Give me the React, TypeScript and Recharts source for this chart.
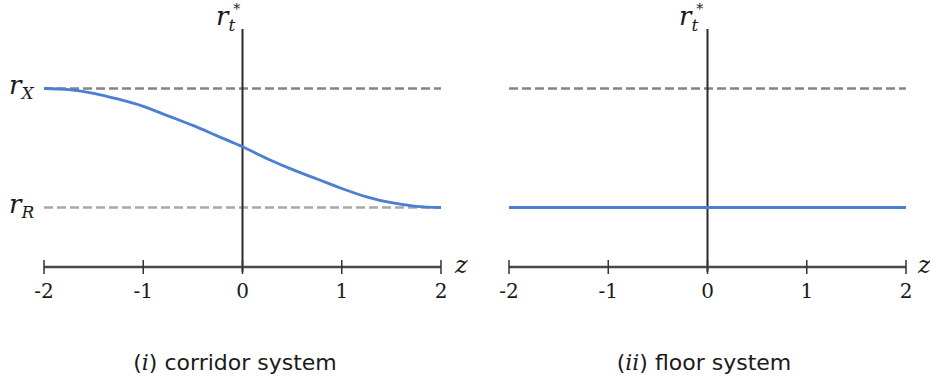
import { LineChart, Line, XAxis, YAxis, ReferenceLine } from 'recharts';

// z grid and policy-rate paths (r_R = 0, r_X = 1)
const corridorZ = [-2, -1.75, -1.5, -1.25, -1, -0.75, -0.5, -0.25, 0, 0.25, 0.5, 0.75, 1, 1.25, 1.5, 1.75, 2];
const corridorRate = [1.0, 0.99, 0.96, 0.91, 0.85, 0.77, 0.69, 0.6, 0.51, 0.41, 0.32, 0.24, 0.16, 0.09, 0.04, 0.01, 0.0];
const floorZ = [-2, 2];
const floorRate = [0, 0];
const zTicks = [-2, -1, 0, 1, 2];
const rX = 1;
const rR = 0;

const corridorData = corridorZ.map((z, i) => ({ z, r: corridorRate[i] }));
const floorData = floorZ.map((z, i) => ({ z, r: floorRate[i] }));

const W = 465;
const H = 379;
const margin = { top: 29, right: 24, left: 44, bottom: 82 };
const blue = '#4a7fd2';
const mathFont = '"DejaVu Serif", "Liberation Serif", serif';

const AxisTick = (props: any) => {
  const { x, y, payload } = props;
  return (
    <g>
      <line x1={x} x2={x} y1={y - 7} y2={y + 7} stroke="#333" strokeWidth={1.5} />
      <text x={x} y={y + 31} textAnchor="middle" fontFamily={mathFont} fontSize={20} fill="#1a1a1a">
        {payload.value}
      </text>
    </g>
  );
};

function Panel({ data, showRR }: { data: { z: number; r: number }[]; showRR: boolean }) {
  return (
    <LineChart width={W} height={H} data={data} margin={margin}>
      <XAxis
        dataKey="z"
        type="number"
        domain={[-2, 2]}
        ticks={zTicks}
        interval={0}
        tickSize={0}
        tickMargin={0}
        height={30}
        axisLine={{ stroke: '#4a4a4a', strokeWidth: 2.5 }}
        tick={<AxisTick />}
      />
      <YAxis hide type="number" domain={[-0.5, 1.5]} />
      <ReferenceLine y={-0.5} stroke="#bdbdbd" strokeDasharray="7 4" strokeWidth={1} />
      <ReferenceLine y={rX} stroke="#858585" strokeDasharray="9 4" strokeWidth={2.5} />
      {showRR && <ReferenceLine y={rR} stroke="#a8a8a8" strokeDasharray="9 4" strokeWidth={2.5} />}
      <ReferenceLine
        segment={[
          { x: 0, y: 1.5 },
          { x: 0, y: -0.54 },
        ]}
        ifOverflow="visible"
        stroke="#2a2a2a"
        strokeWidth={2}
      />
      <Line
        type="monotone"
        dataKey="r"
        stroke={blue}
        strokeWidth={2.8}
        dot={false}
        isAnimationActive={false}
      />
    </LineChart>
  );
}

function RStar({ x }: { x: number }) {
  return (
    <text x={x} y={25} fontFamily={mathFont} fontStyle="italic" fontSize={26} fill="#1a1a1a">
      r
      <tspan fontSize={17} dy={6}>t</tspan>
      <tspan fontSize={14} dx={-2} dy={-17} fontStyle="normal">*</tspan>
    </text>
  );
}

export default function App() {
  return (
    <div style={{ position: 'absolute', left: 0, top: 0, width: 930, height: 379, background: '#fff' }}>
      <div style={{ position: 'absolute', left: 0, top: 0 }}>
        <Panel data={corridorData} showRR={true} />
      </div>
      <div style={{ position: 'absolute', left: 465, top: 0 }}>
        <Panel data={floorData} showRR={false} />
      </div>
      <svg width={930} height={379} style={{ position: 'absolute', left: 0, top: 0, pointerEvents: 'none' }}>
        <text x={9} y={94} fontFamily={mathFont} fontStyle="italic" fontSize={26} fill="#1a1a1a">
          r<tspan fontSize={17} dy={5}>X</tspan>
        </text>
        <text x={9} y={213} fontFamily={mathFont} fontStyle="italic" fontSize={26} fill="#1a1a1a">
          r<tspan fontSize={17} dy={5}>R</tspan>
        </text>
        <RStar x={216} />
        <RStar x={679} />
        <text x={455} y={273} fontFamily={mathFont} fontStyle="italic" fontSize={24} fill="#1a1a1a">z</text>
        <text x={918} y={273} fontFamily={mathFont} fontStyle="italic" fontSize={24} fill="#1a1a1a">z</text>
        <text x={235} y={370} textAnchor="middle" fontFamily='"DejaVu Sans", sans-serif' fontSize={22} fill="#1a1a1a">
          (<tspan fontFamily={mathFont} fontStyle="italic">i</tspan>) corridor system
        </text>
        <text x={704} y={370} textAnchor="middle" fontFamily='"DejaVu Sans", sans-serif' fontSize={22} fill="#1a1a1a">
          (<tspan fontFamily={mathFont} fontStyle="italic">ii</tspan>) floor system
        </text>
      </svg>
    </div>
  );
}
